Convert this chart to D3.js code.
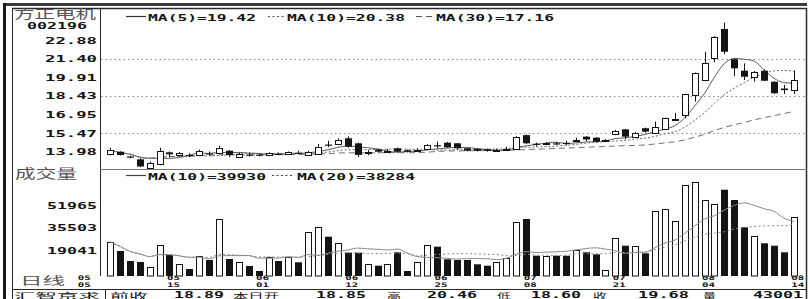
<!DOCTYPE html>
<html><head><meta charset="utf-8">
<script src="https://cdn.jsdelivr.net/npm/d3@7"></script>
<style>html,body{margin:0;padding:0;background:#fff;overflow:hidden}</style>
</head><body>
<svg id="c" width="810" height="299"></svg>
<script>
// ---- data ----
const opens  = [13.80,13.98,13.60,13.37,12.74,13.00,13.93,13.67,13.72,13.72,
                13.85,13.85,14.06,13.55,13.75,13.75,13.70,13.82,13.80,13.90,
                13.72,13.85,14.55,14.60,15.05,14.65,13.95,14.15,14.05,14.25,
                14.10,14.05,14.17,14.50,14.70,14.65,14.25,14.20,14.18,14.10,
                14.20,14.25,15.30,14.62,14.62,14.65,14.68,14.85,15.18,15.10,
                14.90,15.38,15.76,15.18,15.85,15.50,15.77,16.55,16.90,18.50,
                19.75,21.50,23.77,21.35,20.44,19.96,20.44,19.56,19.02,18.85];
const highs  = [14.30,14.02,13.65,13.45,13.20,14.30,14.00,13.95,13.85,14.15,
                14.00,14.45,14.10,13.90,13.90,13.85,13.92,13.92,14.00,14.05,
                14.05,14.60,14.85,15.05,15.20,14.70,14.10,14.22,14.20,14.30,
                14.15,14.25,14.58,14.78,14.75,14.68,14.30,14.25,14.22,14.22,
                14.38,15.22,15.35,14.70,14.75,14.75,14.85,15.10,15.22,15.15,
                15.00,15.72,15.80,15.55,15.90,16.38,16.70,17.07,18.60,20.30,
                21.95,23.20,24.27,21.40,21.03,20.42,20.55,19.60,19.30,20.46];
const lows   = [13.68,13.68,13.45,12.75,12.65,12.90,13.55,13.60,13.55,13.65,
                13.70,13.80,13.55,13.50,13.60,13.62,13.65,13.70,13.75,13.78,
                13.68,13.80,14.35,14.50,14.30,13.55,13.70,13.90,13.95,13.90,
                13.92,13.98,14.10,14.25,14.28,14.15,14.00,14.00,13.98,14.02,
                14.10,14.20,14.60,14.40,14.50,14.52,14.50,14.75,14.80,14.72,
                14.85,15.30,14.97,15.10,15.50,15.45,15.70,16.50,16.64,17.97,
                19.60,21.12,21.77,20.02,19.70,19.56,19.60,18.60,18.58,18.60];
const closes = [14.10,13.72,13.55,12.80,13.10,14.06,13.77,13.85,13.70,14.03,
                13.82,14.25,13.72,13.80,13.72,13.72,13.85,13.80,13.92,13.88,
                13.98,14.38,14.50,14.90,14.38,13.72,13.98,13.98,14.07,13.98,
                13.98,14.10,14.50,14.45,14.33,14.25,14.06,14.05,14.05,14.12,
                14.22,15.18,14.65,14.60,14.65,14.62,14.65,14.90,14.95,14.78,
                14.92,15.60,15.18,15.50,15.58,15.97,16.64,16.60,18.56,20.28,
                21.08,23.15,21.95,20.63,19.96,20.36,19.64,18.64,18.89,19.68];
const volumes = [25120,18310,10980,10250,6590,22700,15380,8790,5130,14650,
                 11720,41740,12450,10250,7320,3660,13910,10980,14130,10030,
                 32440,36100,28780,23950,17060,17060,8570,7540,8570,17360,
                 3660,10030,22700,21460,12230,11720,11720,8570,7540,10030,
                 13400,39760,41740,14870,14870,14870,14870,18820,17360,15890,
                 4170,27610,22190,22190,16620,47600,48840,40500,66640,69060,
                 55870,52730,63200,55650,35660,29290,23950,22190,17360,43001];
const priceTicks = [22.88,21.40,19.91,18.43,16.95,15.47,13.98];
const priceGrid  = [21.40,18.43,15.47];
const volTicks   = [51965,35503,19041];
const dateTicks  = [{m:"05",d:"05",i:-3},{m:"05",d:"15",i:6},{m:"06",d:"01",i:15},
                    {m:"06",d:"12",i:24},{m:"06",d:"25",i:33},{m:"07",d:"08",i:42},
                    {m:"07",d:"21",i:51},{m:"08",d:"04",i:60},{m:"08",d:"14",i:69}];
const priceLegend = [{n:5,v:"19.42"},{n:10,v:"20.38"},{n:30,v:"17.16"}];
const volLegend   = [{n:10,v:"39930"},{n:20,v:"38284"}];
const stockName = "方正电机", stockCode = "002196";
const infoRow = [{t:"前收",x:110,w:38,cn:1},{t:"18.89",x:174,w:50},
                 {t:"本日开",x:233,w:46,cn:1},{t:"18.85",x:316,w:50},
                 {t:"高",x:387,w:14,cn:1},{t:"20.46",x:427,w:50},
                 {t:"低",x:497,w:14,cn:1},{t:"18.60",x:531,w:50},
                 {t:"收",x:593,w:14,cn:1},{t:"19.68",x:638,w:51},
                 {t:"量",x:703,w:13,cn:1},{t:"43001",x:753,w:50}];

// ---- scales ----
const N = closes.length;
const x  = d3.scaleLinear().domain([0, N-1]).range([110, 793.7]);
const yP = d3.scaleLinear().domain([13.98, 22.88]).range([151.7, 40.1]);
const yV = d3.scaleLinear().domain([0, 19041]).range([276, 250]);
const svg = d3.select('#c');
const INK = '#141414';
const MONO = '"DejaVu Sans Mono", monospace';
const CJK = '"Noto Sans CJK SC", sans-serif';

function ma(arr, n){ return arr.map((_, i) => d3.mean(arr.slice(Math.max(0, i-n+1), i+1))); }
function T(g, s, px, py, o){
  const t = g.append('text').attr('x', px).attr('y', py).text(s)
    .attr('font-family', o.cn ? CJK : MONO)
    .attr('font-size', o.size || 9.5)
    .attr('font-weight', o.cn ? 400 : 700)
    .attr('fill', o.fill || INK)
    .attr('text-anchor', o.anchor || 'start');
  if (o.w) t.attr('textLength', o.w).attr('lengthAdjust', 'spacingAndGlyphs');
  return t;
}

// ---- frame ----
const fr = svg.append('g').attr('stroke', '#2a2a2a').attr('fill', 'none');
fr.append('rect').attr('x',3).attr('y',3).attr('width',804).attr('height',3).attr('fill','#3a3a3a').attr('stroke','none');
fr.append('rect').attr('x',3).attr('y',3).attr('width',3).attr('height',296).attr('fill','#1a1a1a').attr('stroke','none');
fr.append('line').attr('x1',12).attr('x2',807).attr('y1',8.5).attr('y2',8.5).attr('stroke-width',1.5);
fr.append('line').attr('x1',12.5).attr('x2',12.5).attr('y1',8).attr('y2',299);
fr.append('line').attr('x1',806.5).attr('x2',806.5).attr('y1',8).attr('y2',299).attr('stroke-width',1.5);
fr.append('line').attr('x1',100.5).attr('x2',100.5).attr('y1',8).attr('y2',276);
fr.append('line').attr('x1',100).attr('x2',807).attr('y1',169.5).attr('y2',169.5).attr('stroke','#777');
fr.append('line').attr('x1',12).attr('x2',807).attr('y1',289.5).attr('y2',289.5);
fr.append('line').attr('x1',105.5).attr('x2',105.5).attr('y1',289).attr('y2',299);

// ---- grid ----
svg.append('g').selectAll('line').data(priceGrid).join('line')
  .attr('x1',101).attr('x2',806).attr('y1',d=>Math.round(yP(d))+0.5).attr('y2',d=>Math.round(yP(d))+0.5)
  .attr('stroke','#8a8a8a').attr('stroke-width',1).attr('stroke-dasharray','1.5,3');

// ---- left labels ----
const lg = svg.append('g');
T(lg, stockName, 14, 18.5, {cn:1, size:12.5, w:82, fill:'#555'});
T(lg, stockCode, 27, 29, {size:8.5, w:60});
priceTicks.forEach(v => T(lg, v.toFixed(2), 97, yP(v)+3.5, {anchor:'end', w:52}));
T(lg, '成交量', 15, 178, {cn:1, size:13, w:62, fill:'#555'});
volTicks.forEach(v => T(lg, String(v), 97, yV(v)+3.5, {anchor:'end', w:50}));
T(lg, '日线', 20, 285, {cn:1, size:11, w:45, fill:'#555'});
dateTicks.forEach(d => {
  const cxp = x(d.i) + 4;
  T(lg, d.m, cxp, 279.6, {anchor:'middle', size:6.3, w:13});
  T(lg, d.d, cxp, 286.8, {anchor:'middle', size:6.3, w:13});
});
// info row
T(lg, '汇智京求', 14, 298.5, {cn:1, size:8.5, w:86});
infoRow.forEach(r => r.cn ? T(lg, r.t, r.x, 298.5, {cn:1, size:8.5, w:r.w})
                          : T(lg, r.t, r.x, 297.5, {size:8.5, w:r.w}));

// ---- MA lines (price) ----
const maStyles = {5:{dash:null, col:'#5a5a5a'}, 10:{dash:'2,2', col:'#6a6a6a'}, 30:{dash:'6,4', col:'#707070'}};
const lineP = d3.line().x((d,i)=>x(i)).y(d=>yP(d)).curve(d3.curveMonotoneX);
priceLegend.forEach(l => {
  svg.append('path').attr('d', lineP(ma(closes, l.n))).attr('fill','none')
    .attr('stroke', maStyles[l.n].col).attr('stroke-width',1)
    .attr('stroke-dasharray', maStyles[l.n].dash);
});

// ---- candles ----
const cg = svg.append('g');
const cx = i => Math.round(x(i)) + 0.5;
cg.selectAll('line').data(closes).join('line')
  .attr('x1',(d,i)=>cx(i)).attr('x2',(d,i)=>cx(i))
  .attr('y1',(d,i)=>yP(highs[i])).attr('y2',(d,i)=>yP(lows[i]))
  .attr('stroke',INK).attr('stroke-width',1);
cg.selectAll('rect').data(closes).join('rect')
  .each(function(c, i){
    const o = opens[i], up = c >= o;
    const top = yP(Math.max(o,c)), h = Math.max(1, Math.abs(yP(o)-yP(c)));
    const r = d3.select(this);
    if (up) r.attr('x', cx(i)-3).attr('width', 6).attr('y', Math.round(top)+0.5).attr('height', Math.max(1, Math.round(h)))
             .attr('fill','#fff').attr('stroke',INK).attr('stroke-width',1);
    else r.attr('x', cx(i)-3.5).attr('width', 7).attr('y', top).attr('height', Math.max(1.2, h)).attr('fill',INK);
  });

// ---- price legend ----
const pl = svg.append('g');
const legPos = [{lx:126, l2:146, tx:148}, {lx:268, l2:285, tx:287}, {lx:416, l2:434, tx:436}];
priceLegend.forEach((l, k) => {
  const p = legPos[k];
  pl.append('line').attr('x1',p.lx).attr('x2',p.l2).attr('y1',16.5).attr('y2',16.5)
    .attr('stroke', k===0 ? '#333' : '#555').attr('stroke-width', 1.2).attr('stroke-dasharray', k===0 ? null : (k===1 ? '2,2.5' : '6,4'));
  const s = `MA(${l.n})=${l.v}`;
  T(pl, s, p.tx, 20.5, {w: s.length*10 - 2});
});

// ---- volume bars ----
const vg = svg.append('g');
vg.selectAll('rect').data(volumes).join('rect')
  .each(function(v, i){
    const up = closes[i] >= opens[i];
    const top = yV(v), r = d3.select(this);
    if (up) r.attr('x', cx(i)-3).attr('width', 6).attr('y', Math.round(top)+0.5).attr('height', 276 - Math.round(top) - 0.5)
             .attr('fill','#fff').attr('stroke',INK).attr('stroke-width',1);
    else r.attr('x', cx(i)-3.5).attr('width', 7).attr('y', top).attr('height', 276 - top).attr('fill',INK);
  });
const lineV = d3.line().x((d,i)=>x(i)).y(d=>yV(d)).curve(d3.curveMonotoneX);
const vStyles = {10:{dash:null}, 20:{dash:'2,2.5'}};
volLegend.forEach(l => {
  vg.append('path').attr('d', lineV(ma(volumes, l.n))).attr('fill','none')
    .attr('stroke','#8a8a8a').attr('stroke-width',1).attr('stroke-dasharray', vStyles[l.n].dash);
});
const vl = svg.append('g');
const vPos = [{lx:126, l2:146, tx:148}, {lx:272, l2:293, tx:297}];
volLegend.forEach((l, k) => {
  const p = vPos[k];
  vl.append('line').attr('x1',p.lx).attr('x2',p.l2).attr('y1',175.5).attr('y2',175.5)
    .attr('stroke', '#444').attr('stroke-width',1.2).attr('stroke-dasharray', k===0 ? null : '2,2.5');
  const s = `MA(${l.n})=${l.v}`;
  T(vl, s, p.tx, 179.5, {w: s.length*10 - 2});
});
</script>
</body></html>
